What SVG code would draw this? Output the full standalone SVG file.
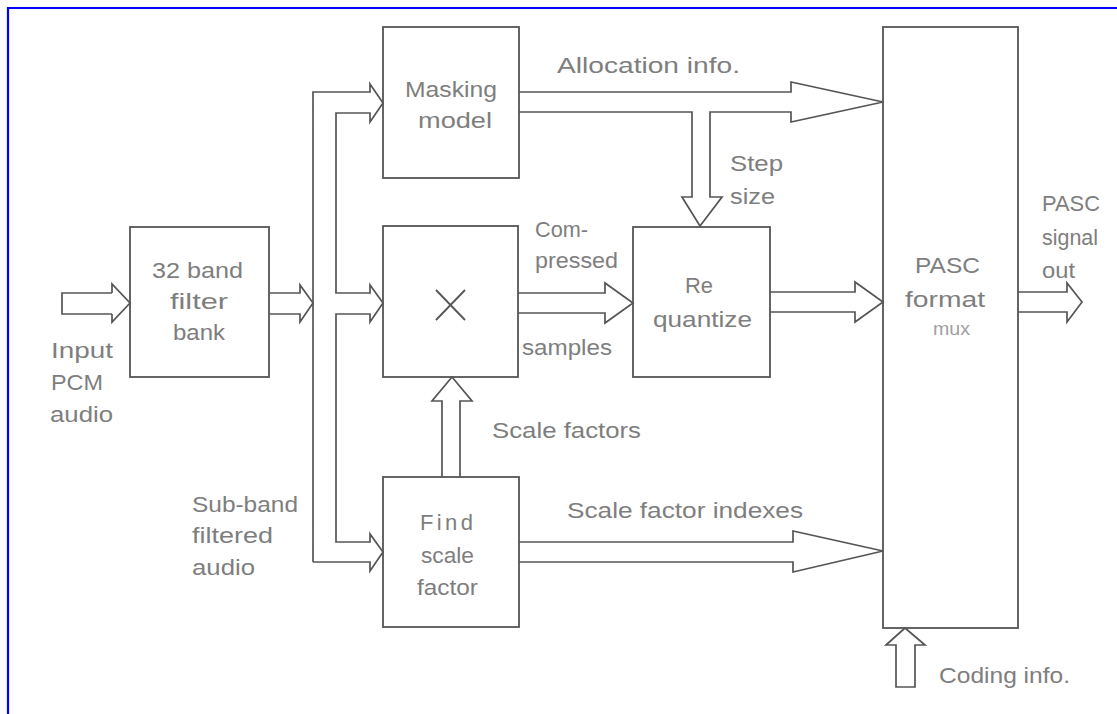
<svg xmlns="http://www.w3.org/2000/svg" width="1117" height="714" viewBox="0 0 1117 714">
<style>
.box{fill:none;stroke:#555555;stroke-width:1.8}
.arw{fill:none;stroke:#555555;stroke-width:1.7;stroke-linejoin:miter}
.t{font-family:"Liberation Sans",Arial,sans-serif;font-size:22px;fill:#7e7e7e}
.s{font-size:19px;fill:#a0a0a0}
</style>
<rect width="1117" height="714" fill="#ffffff"/>
<path d="M8,714 V8 H1117" fill="none" stroke="#0000ff" stroke-width="2.2"/>

<g id="connectors">
  <path class="arw" d="M112,293 H62 V314 H112 M112,293 V284 L130,303 L112,322 V314"/>
  <path class="arw" d="M269,293 H300 V285 L313,303 L300,322 V314 H269"/>
  <path class="arw" d="M313,562 V92 H370 V84 L383,103 L370,122 V113 H336 V293 H370 V285 L383,303 L370,322 V314 H336 V542 H370 V534 L383,552 L370,571 V562 H313"/>
  <path class="arw" d="M442,477 V401 H432 L452,377 L472,401 H460 V477"/>
  <path class="arw" d="M519,92 H791 V82 L883,102 L791,122 V112 H710 V197 H722 L700,226 L682,197 H692 V112 H519"/>
  <path class="arw" d="M518,293 H605 V283 L633,303 L605,323 V313 H518"/>
  <path class="arw" d="M770,292 H855 V282 L883,302 L855,322 V312 H770"/>
  <path class="arw" d="M519,542 H793 V531 L883,551 L793,572 V562 H519"/>
  <path class="arw" d="M1018,292 H1067 V283 L1082,302 L1067,322 V312 H1018"/>
  <path class="arw" d="M896,687 V645 H886 L905,628 L925,645 H915 V687 Z"/>
</g>

<g id="filter-bank">
  <rect class="box" x="130" y="227" width="139" height="150"/>
  <text class="t" x="152" y="278" textLength="91" lengthAdjust="spacingAndGlyphs">32 band</text>
  <text class="t" x="170" y="309" textLength="58" lengthAdjust="spacingAndGlyphs">filter</text>
  <text class="t" x="173" y="340" textLength="52" lengthAdjust="spacingAndGlyphs">bank</text>
</g>

<g id="input-label">
  <text class="t" x="51" y="358" textLength="62" lengthAdjust="spacingAndGlyphs">Input</text>
  <text class="t" x="51" y="390" textLength="52" lengthAdjust="spacingAndGlyphs">PCM</text>
  <text class="t" x="50" y="422" textLength="63" lengthAdjust="spacingAndGlyphs">audio</text>
</g>

<g id="subband-label">
  <text class="t" x="192" y="512" textLength="106" lengthAdjust="spacingAndGlyphs">Sub-band</text>
  <text class="t" x="192" y="543" textLength="81" lengthAdjust="spacingAndGlyphs">filtered</text>
  <text class="t" x="192" y="575" textLength="63" lengthAdjust="spacingAndGlyphs">audio</text>
</g>

<g id="masking-model">
  <rect class="box" x="383" y="27" width="136" height="151"/>
  <text class="t" x="405" y="97" textLength="92" lengthAdjust="spacingAndGlyphs">Masking</text>
  <text class="t" x="418" y="128" textLength="74" lengthAdjust="spacingAndGlyphs">model</text>
</g>

<g id="multiplier">
  <rect class="box" x="383" y="226" width="135" height="151"/>
  <path d="M436,290 L465,320 M465,290 L436,320" fill="none" stroke="#555555" stroke-width="1.8"/>
</g>

<g id="find-scale-factor">
  <rect class="box" x="383" y="477" width="136" height="150"/>
  <text class="t" x="420" y="530" textLength="53" lengthAdjust="spacing">Find</text>
  <text class="t" x="421" y="563" textLength="53" lengthAdjust="spacingAndGlyphs">scale</text>
  <text class="t" x="417" y="595" textLength="61" lengthAdjust="spacingAndGlyphs">factor</text>
</g>

<g id="requantize">
  <rect class="box" x="633" y="227" width="137" height="150"/>
  <text class="t" x="685" y="293" textLength="28" lengthAdjust="spacingAndGlyphs">Re</text>
  <text class="t" x="653" y="327" textLength="99" lengthAdjust="spacingAndGlyphs">quantize</text>
</g>

<g id="pasc-mux">
  <rect class="box" x="883" y="27" width="135" height="601"/>
  <text class="t" x="915" y="273" textLength="65" lengthAdjust="spacingAndGlyphs">PASC</text>
  <text class="t" x="905" y="307" textLength="80" lengthAdjust="spacingAndGlyphs">format</text>
  <text class="t s" x="933" y="335" textLength="37" lengthAdjust="spacingAndGlyphs">mux</text>
</g>

<g id="labels">
  <text class="t" x="557" y="73" textLength="183" lengthAdjust="spacingAndGlyphs">Allocation info.</text>
  <text class="t" x="730" y="171" textLength="53" lengthAdjust="spacingAndGlyphs">Step</text>
  <text class="t" x="730" y="204" textLength="45" lengthAdjust="spacingAndGlyphs">size</text>
  <text class="t" x="535" y="237" textLength="53" lengthAdjust="spacingAndGlyphs">Com-</text>
  <text class="t" x="535" y="268" textLength="83" lengthAdjust="spacingAndGlyphs">pressed</text>
  <text class="t" x="522" y="355" textLength="90" lengthAdjust="spacingAndGlyphs">samples</text>
  <text class="t" x="492" y="438" textLength="149" lengthAdjust="spacingAndGlyphs">Scale factors</text>
  <text class="t" x="567" y="518" textLength="236" lengthAdjust="spacingAndGlyphs">Scale factor indexes</text>
  <text class="t" x="1042" y="211" textLength="58" lengthAdjust="spacingAndGlyphs">PASC</text>
  <text class="t" x="1042" y="245" textLength="56" lengthAdjust="spacingAndGlyphs">signal</text>
  <text class="t" x="1042" y="278" textLength="33" lengthAdjust="spacingAndGlyphs">out</text>
  <text class="t" x="939" y="683" textLength="131" lengthAdjust="spacingAndGlyphs">Coding info.</text>
</g>
</svg>
